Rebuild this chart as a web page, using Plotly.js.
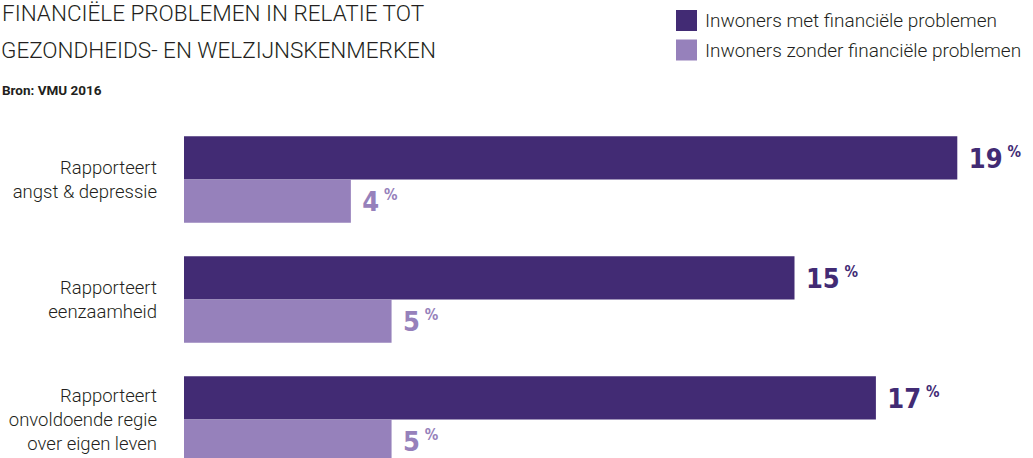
<!DOCTYPE html>
<html><head><meta charset="utf-8">
<script src="https://cdn.plot.ly/plotly-3.0.1.min.js"></script>
<style>html,body{margin:0;padding:0;overflow:hidden;background:#fff}</style>
</head><body><div id="chart" style="width:1033px;height:458px"></div>
<script>
const categories = ["Rapporteert<br>angst & depressie", "Rapporteert<br>eenzaamheid", "Rapporteert<br>onvoldoende regie<br>over eigen leven"];
const seriesNames = ["Inwoners met financiële problemen", "Inwoners zonder financiële problemen"];
const metProblemen = [19.0, 15.0, 17.0];
const zonderProblemen = [4.1, 5.1, 5.1];
const titleLines = ["FINANCIËLE PROBLEMEN IN RELATIE TOT", "GEZONDHEIDS- EN WELZIJNSKENMERKEN"];
const sourceText = "Bron: VMU 2016";

const DARK = '#422b74', LIGHT = '#9681bb', TXT = '#231f20';
const W = 1033, H = 458, ML = 184, MR = 15, MT = 120, MB = 0;
const PW = W - ML - MR, PH = H - MT - MB;
const px2x = p => (p - ML) / PW;
const px2y = p => (H - MB - p) / PH;
const FONT = 'Roboto, "Open Sans", sans-serif';
const NUMFONT = '"Liberation Sans Narrow", "DejaVu Sans Condensed", Roboto, sans-serif';
const tmpl = '\u00a0%{x:.0f}\u2009<span style="font-size:15px;baseline-shift:75%">%</span>';

const traces = [
  {type:'bar', orientation:'h', name:seriesNames[0], y:categories, x:metProblemen,
   marker:{color:DARK, line:{width:0}}, texttemplate:tmpl, textposition:'outside',
   textfont:{family:NUMFONT, size:27, weight:700, color:DARK}, cliponaxis:false,
   constraintext:'none', hoverinfo:'skip'},
  {type:'bar', orientation:'h', name:seriesNames[1], y:categories, x:zonderProblemen,
   marker:{color:LIGHT, line:{width:0}}, texttemplate:tmpl, textposition:'outside',
   textfont:{family:NUMFONT, size:27, weight:700, color:LIGHT}, cliponaxis:false,
   constraintext:'none', hoverinfo:'skip'}
];

const shapes = [
  {type:'rect', xref:'paper', yref:'paper', x0:px2x(676), x1:px2x(697), y0:px2y(31), y1:px2y(10), fillcolor:DARK, line:{width:0}},
  {type:'rect', xref:'paper', yref:'paper', x0:px2x(676), x1:px2x(697), y0:px2y(60.5), y1:px2y(39.5), fillcolor:LIGHT, line:{width:0}}
];

const annotations = [
  {xref:'paper', yref:'paper', x:px2x(703), y:px2y(20.5), xanchor:'left', yanchor:'middle', showarrow:false, text:seriesNames[0], font:{family:FONT, size:19, weight:300, color:TXT}},
  {xref:'paper', yref:'paper', x:px2x(703), y:px2y(50), xanchor:'left', yanchor:'middle', showarrow:false, text:seriesNames[1], font:{family:FONT, size:19, weight:300, color:TXT}},
  {xref:'paper', yref:'paper', x:px2x(0), y:px2y(13.5), xanchor:'left', yanchor:'middle', showarrow:false, text:titleLines[0], font:{family:FONT, size:22.5, weight:300, color:TXT}},
  {xref:'paper', yref:'paper', x:px2x(-1), y:px2y(50), xanchor:'left', yanchor:'middle', showarrow:false, text:titleLines[1], font:{family:FONT, size:22.5, weight:300, color:TXT}},
  {xref:'paper', yref:'paper', x:px2x(0), y:px2y(90), xanchor:'left', yanchor:'middle', showarrow:false, text:sourceText, font:{family:FONT, size:13.5, weight:700, color:TXT}}
];

const layout = {
  width:W, height:H, margin:{l:ML, r:MR, t:MT, b:MB, pad:0},
  paper_bgcolor:'#fff', plot_bgcolor:'#fff', showlegend:false,
  barmode:'group', bargap:0.28, bargroupgap:0,
  xaxis:{range:[0, PW/40.7], visible:false, fixedrange:true},
  yaxis:{type:'category', range:[2.321, -0.496], showgrid:false, zeroline:false, showline:false,
         ticks:'', ticklabelstandoff:26, tickfont:{family:FONT, size:18.5, weight:300, color:TXT}, fixedrange:true},
  shapes:shapes, annotations:annotations, hovermode:false
};

Plotly.newPlot('chart', traces, layout, {displayModeBar:false, staticPlot:true});
</script></body></html>
